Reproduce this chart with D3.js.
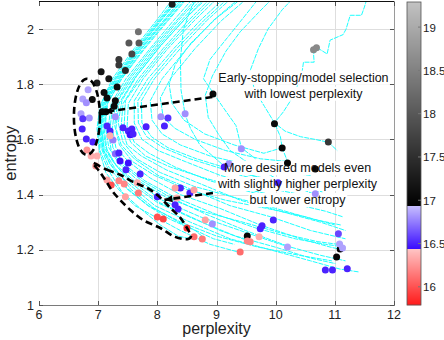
<!DOCTYPE html>
<html lang="en">
<head>
<meta charset="UTF-8">
<title>Entropy vs perplexity</title>
<script src="https://d3js.org/d3.v7.min.js"></script>
<style>
  html, body { margin: 0; padding: 0; background: #fff; overflow: hidden; }
  svg { display: block; font-family: "Liberation Sans", Arial, sans-serif; }
</style>
</head>
<body>
<svg id="chart" width="444" height="340"></svg>
<script>
// axes
const perplexityTicks = [6, 7, 8, 9, 10, 11, 12];
const entropyTicks = [1, 1.2, 1.4, 1.6, 1.8, 2];
const colorTicks = [16, 16.5, 17, 17.5, 18, 18.5, 19];
const colorRange = [15.79, 19.29];
const colorBreaks = [16.44, 16.93];

// training runs (perplexity, entropy)
const runs = [
  [[8.42,2.14],[8.01,2.03],[7.64,1.93],[7.27,1.82],[7.05,1.73],[7.0,1.64],[7.03,1.56],[7.17,1.49],[7.4,1.41],[7.71,1.35],[8.05,1.29],[8.35,1.25],[8.56,1.24]],
  [[8.52,2.14],[8.1,2.03],[7.71,1.93],[7.34,1.82],[7.1,1.73],[7.05,1.64],[7.08,1.56],[7.24,1.5],[7.49,1.42],[7.84,1.36],[8.22,1.31],[8.64,1.27],[8.81,1.24]],
  [[8.62,2.14],[8.18,2.03],[7.79,1.93],[7.4,1.82],[7.15,1.73],[7.1,1.64],[7.15,1.56],[7.32,1.5],[7.62,1.44],[8.05,1.37],[8.56,1.32],[9.06,1.27],[9.57,1.23]],
  [[8.72,2.14],[8.27,2.03],[7.88,1.93],[7.47,1.82],[7.22,1.73],[7.17,1.64],[7.22,1.56],[7.4,1.51],[7.74,1.45],[8.22,1.39],[8.81,1.33],[9.49,1.27],[10.25,1.21]],
  [[8.47,2.14],[8.05,2.03],[7.68,1.93],[7.3,1.82],[7.08,1.73],[7.03,1.64],[7.07,1.57],[7.2,1.51],[7.51,1.44],[7.96,1.36],[8.56,1.3],[9.23,1.24],[9.91,1.2],[10.59,1.16],[11.09,1.13],[11.4,1.12]],
  [[8.57,2.14],[8.13,2.03],[7.74,1.93],[7.37,1.82],[7.13,1.73],[7.08,1.64],[7.13,1.57],[7.29,1.51],[7.61,1.45],[8.08,1.38],[8.72,1.32],[9.4,1.27],[10.08,1.22],[10.76,1.18],[11.18,1.16]],
  [[8.83,2.14],[8.35,2.03],[7.95,1.93],[7.54,1.82],[7.29,1.73],[7.24,1.64],[7.3,1.57],[7.51,1.52],[7.88,1.46],[8.39,1.4],[9.06,1.35],[9.74,1.29],[10.42,1.24],[10.92,1.21],[11.13,1.2]],
  [[8.93,2.14],[8.44,2.03],[8.01,1.93],[7.61,1.82],[7.35,1.73],[7.3,1.64],[7.39,1.58],[7.61,1.53],[8.01,1.47],[8.56,1.42],[9.23,1.36],[9.91,1.32],[10.59,1.27],[11.18,1.24]],
  [[9.03,2.14],[8.52,2.03],[8.1,1.93],[7.68,1.82],[7.42,1.73],[7.39,1.65],[7.49,1.58],[7.73,1.54],[8.15,1.49],[8.72,1.44],[9.4,1.38],[10.08,1.34],[10.76,1.3],[11.18,1.27]],
  [[9.15,2.14],[8.62,2.03],[8.18,1.93],[7.76,1.82],[7.51,1.73],[7.49,1.65],[7.61,1.59],[7.86,1.55],[8.3,1.5],[8.89,1.45],[9.57,1.41],[10.25,1.37],[10.84,1.34],[11.13,1.32]],
  [[9.27,2.14],[8.72,2.03],[8.28,1.93],[7.84,1.82],[7.61,1.74],[7.61,1.66],[7.74,1.6],[8.01,1.56],[8.47,1.52],[9.06,1.47],[9.74,1.43],[10.42,1.4],[10.92,1.37]],
  [[9.4,2.14],[8.83,2.03],[8.39,1.93],[7.95,1.82],[7.73,1.74],[7.74,1.66],[7.9,1.61],[8.18,1.57],[8.66,1.53],[9.27,1.49],[9.91,1.45],[10.59,1.42],[10.79,1.41]],
  [[9.54,2.14],[8.94,2.03],[8.5,1.93],[8.08,1.82],[7.88,1.74],[7.91,1.67],[8.08,1.62],[8.39,1.58],[8.89,1.54],[9.49,1.51],[10.16,1.48],[10.59,1.47]],
  [[9.67,2.14],[9.08,2.03],[8.64,1.93],[8.22,1.82],[8.05,1.75],[8.1,1.68],[8.3,1.64],[8.64,1.6],[9.15,1.56],[9.74,1.53],[10.2,1.52]],
  [[8.49,2.14],[8.06,2.03],[7.69,1.93],[7.32,1.82],[7.1,1.73],[7.05,1.65],[7.1,1.57],[7.25,1.52],[7.56,1.44],[8.01,1.37],[8.64,1.31],[9.32,1.25],[9.99,1.21],[10.59,1.17],[11.01,1.15]],
  [[8.78,2.14],[8.32,2.03],[7.91,1.93],[7.51,1.82],[7.25,1.73],[7.2,1.64],[7.25,1.57],[7.44,1.51],[7.79,1.45],[8.3,1.39],[8.98,1.33],[9.65,1.28],[10.33,1.24],[10.84,1.22],[11.18,1.21]],
  [[8.37,2.14],[7.98,2.03],[7.61,1.93],[7.24,1.82],[7.03,1.72],[6.98,1.64],[7.02,1.56],[7.13,1.48],[7.34,1.42],[7.62,1.36],[7.96,1.32],[8.39,1.27],[8.89,1.22],[9.4,1.19]],
  [[8.45,2.14],[8.03,2.03],[7.66,1.93],[7.29,1.82],[7.07,1.73],[7.02,1.64],[7.05,1.57],[7.18,1.5],[7.45,1.43],[7.85,1.36],[8.4,1.3],[9.0,1.25],[9.7,1.21],[10.4,1.18],[10.95,1.16]],
  [[8.6,2.14],[8.16,2.03],[7.77,1.93],[7.39,1.82],[7.16,1.73],[7.12,1.65],[7.18,1.57],[7.36,1.51],[7.68,1.45],[8.15,1.39],[8.75,1.34],[9.45,1.3],[10.1,1.26],[10.7,1.23],[11.05,1.22]],
  [[8.88,2.14],[8.4,2.03],[7.98,1.93],[7.58,1.82],[7.33,1.74],[7.28,1.65],[7.36,1.58],[7.58,1.52],[7.95,1.47],[8.48,1.42],[9.15,1.38],[9.85,1.35],[10.5,1.32],[11.0,1.29]],
  [[9.08,2.14],[8.57,2.03],[8.14,1.93],[7.72,1.82],[7.46,1.74],[7.44,1.65],[7.55,1.59],[7.8,1.54],[8.22,1.5],[8.8,1.46],[9.48,1.42],[10.15,1.39],[10.7,1.36]],
  [[9.34,2.14],[8.78,2.03],[8.33,1.93],[7.9,1.82],[7.67,1.74],[7.68,1.66],[7.82,1.61],[8.1,1.57],[8.55,1.53],[9.15,1.49],[9.8,1.46],[10.4,1.44]],
  [[8.55,2.14],[8.12,2.03],[7.73,1.93],[7.36,1.82],[7.12,1.73],[7.06,1.64],[7.1,1.56],[7.27,1.5],[7.55,1.42],[7.95,1.35],[8.45,1.29],[8.95,1.24],[9.3,1.22]],
  [[9.6,2.14],[9.0,2.04],[8.57,1.95],[8.3,1.87],[8.2,1.8],[8.25,1.73],[8.45,1.67],[8.8,1.62],[9.3,1.58],[9.8,1.55],[10.11,1.57]],
  [[8.98,2.14],[8.48,2.04],[8.06,1.94],[7.65,1.83],[7.4,1.74],[7.34,1.66],[7.42,1.59],[7.65,1.53],[8.05,1.48],[8.62,1.43],[9.3,1.39],[10.0,1.35],[10.65,1.31],[11.1,1.29]],
  [[9.82,2.14],[9.45,2.04],[9.15,1.96],[8.89,1.89],[8.78,1.82],[8.94,1.77],[9.1,1.72],[9.33,1.65],[9.42,1.57],[9.66,1.53]],
  [[10.08,2.14],[9.71,2.06],[9.4,1.99],[9.16,1.92],[8.93,1.83],[8.81,1.76],[8.86,1.68],[9.03,1.62],[9.23,1.56],[9.57,1.51],[10.08,1.45],[10.67,1.4]],
  [[10.42,2.14],[10.11,2.07],[9.87,2.0],[9.71,1.93],[9.57,1.85],[9.64,1.78],[9.81,1.72],[9.98,1.66],[10.08,1.61],[10.11,1.57],[10.2,1.52],[10.42,1.5],[10.67,1.49]],
  [[11.57,2.13],[11.5,2.08],[11.45,2.05],[11.26,2.05],[11.19,2.0],[11.14,1.98],[10.92,1.96],[10.87,1.91],[10.72,1.93],[10.64,1.91],[10.65,1.88],[10.47,1.88],[10.45,1.85],[10.38,1.8],[10.25,1.74],[10.13,1.7],[9.98,1.66],[10.16,1.63],[10.42,1.61],[10.67,1.6],[10.89,1.59],[11.04,1.56]],
  [[8.72,2.14],[8.56,2.07],[8.44,2.0],[8.39,1.89],[8.4,1.78],[8.47,1.69],[8.56,1.64],[8.72,1.58],[9.15,1.5],[9.4,1.47],[10.04,1.44],[10.42,1.42]]
];

// models: perplexity, entropy, colour value
const grayModels = [
  [8.25,2.09,17.3],[7.68,1.99,18.3],[7.52,1.95,18.0],[7.69,1.95,18.0],[7.57,1.91,17.8],[7.35,1.89,17.6],
  [7.35,1.87,17.6],[7.46,1.85,17.4],[7.05,1.845,17.2],[7.18,1.82,17.2],[6.98,1.805,17.3],[7.32,1.79,17.1],
  [7.10,1.77,17.1],[7.15,1.75,17.05],[7.29,1.74,17.05],[6.90,1.745,17.1],[7.27,1.72,17.05],[7.13,1.70,17.0],
  [7.07,1.70,17.0],[8.94,1.765,17.05],[9.98,1.657,17.05],[10.11,1.569,17.0],[10.20,1.515,17.0],[10.67,1.493,17.0],
  [9.52,1.25,17.0],[11.09,1.203,17.0],[11.03,1.174,17.0],[10.64,1.925,18.6],[10.69,1.932,18.6],[10.89,1.591,17.6]
];
const blueModels = [
  [6.83,1.78,16.85],[6.74,1.747,16.85],[6.80,1.733,16.8],[6.71,1.693,16.85],[6.85,1.678,16.8],[6.74,1.675,16.55],
  [6.73,1.638,16.5],[6.80,1.602,16.5],[6.91,1.591,16.5],[7.29,1.682,16.8],[7.15,1.649,16.5],[7.20,1.631,16.5],
  [7.25,1.598,16.75],[7.42,1.642,16.5],[7.51,1.631,16.5],[7.57,1.638,16.5],[7.54,1.617,16.45],[7.59,1.62,16.5],
  [7.81,1.646,16.5],[8.06,1.682,16.8],[8.18,1.678,16.55],[8.12,1.649,16.5],[8.47,1.693,16.8],[7.29,1.548,16.7],
  [7.35,1.551,16.5],[7.37,1.522,16.45],[7.51,1.515,16.45],[7.47,1.49,16.5],[7.71,1.475,16.5],[8.0,1.392,16.5],
  [8.39,1.424,16.5],[8.55,1.406,16.5],[8.30,1.363,16.5],[8.35,1.348,16.5],[8.93,1.294,16.8],[9.21,1.512,16.8],
  [9.13,1.50,16.5],[9.42,1.566,16.8],[10.04,1.443,16.5],[10.67,1.403,16.8],[9.77,1.287,16.5],[9.74,1.276,16.5],
  [9.96,1.308,16.5],[10.20,1.21,16.85],[11.06,1.258,16.6],[11.08,1.221,16.85],[11.13,1.207,16.85],[10.84,1.127,16.5],
  [10.96,1.127,16.5],[11.21,1.131,16.5]
];
const redModels = [
  [6.81,1.562,16.25],[6.88,1.54,16.35],[6.98,1.54,16.35],[6.96,1.504,16.25],[7.20,1.613,16.35],[7.15,1.453,16.3],
  [7.22,1.435,16.0],[7.35,1.45,16.2],[7.44,1.439,16.2],[7.46,1.392,16.3],[7.68,1.406,16.15],[7.66,1.443,16.35],
  [8.30,1.424,16.3],[8.33,1.388,16.35],[8.62,1.417,16.3],[8.0,1.319,16.0],[8.10,1.312,15.95],[8.50,1.279,15.9],
  [8.62,1.247,16.1],[8.76,1.239,16.15],[8.81,1.308,16.3],[9.52,1.232,16.2],[9.57,1.229,16.2],[9.72,1.247,16.35],
  [9.40,1.192,16.1]
];

// annotations (data units)
const earlyStopRegion = { center: [6.81, 1.682], radius: [0.22, 0.138] };
const lowEntropyRegion = [
  [6.91,1.515],[7.15,1.49],[7.37,1.472],[7.59,1.446],[7.83,1.424],[8.0,1.399],[8.22,1.352],[8.39,1.316],[8.52,1.272],
  [8.57,1.25],[8.52,1.239],[8.3,1.247],[8.05,1.279],[7.76,1.308],[7.54,1.345],[7.37,1.381],[7.25,1.41],[7.15,1.443],
  [7.03,1.482],[6.93,1.508]
];
const arrows = [
  [[8.93, 1.754], [7.1, 1.70]],
  [[8.94, 1.406], [8.12, 1.381]]
];
const notes = [
  { at: [10.47, 1.809], lines: ["Early-stopping/model selection", "with lowest perplexity"] },
  { at: [10.37, 1.482], lines: ["More desired models even", "with slightly higher perplexity", "but lower entropy"] }
];

const svg = d3.select("#chart");
const plotLeft = 39, plotRight = 394, plotTop = 1.5, plotBottom = 305;

const x = d3.scaleLinear().domain([6, 12]).range([plotLeft, plotRight]);
const y = d3.scaleLinear().domain([1, 2.1]).range([plotBottom, plotTop]);
const cy = d3.scaleLinear().domain(colorRange).range([305, 2]);

const redPart = d3.scaleLinear().domain([colorRange[0], colorBreaks[0]]).range(["#ff1a1a", "#ffc6c6"]).clamp(true);
const bluePart = d3.scaleLinear().domain([colorBreaks[0], colorBreaks[1]]).range(["#3a0cff", "#c6befe"]).clamp(true);
const grayPart = d3.scaleLinear().domain([colorBreaks[1], colorRange[1]]).range(["#000000", "#c2c2c2"]).clamp(true);
function colorOf(v) {
  if (v < colorBreaks[0]) return redPart(v);
  if (v < colorBreaks[1]) return bluePart(v);
  return grayPart(v);
}

svg.append("defs").append("clipPath").attr("id", "plotClip")
  .append("rect").attr("x", plotLeft).attr("y", plotTop)
  .attr("width", plotRight - plotLeft).attr("height", plotBottom - plotTop);

// grid
const grid = svg.append("g").attr("stroke", "#dedede").attr("stroke-width", 1);
grid.selectAll("line.gx").data(perplexityTicks.slice(1, -1)).join("line")
  .attr("x1", d => Math.round(x(d)) + 0.5).attr("x2", d => Math.round(x(d)) + 0.5)
  .attr("y1", plotTop).attr("y2", plotBottom);
grid.selectAll("line.gy").data(entropyTicks.slice(1)).join("line")
  .attr("y1", d => Math.round(y(d)) + 0.5).attr("y2", d => Math.round(y(d)) + 0.5)
  .attr("x1", plotLeft).attr("x2", plotRight);

// runs
const line = d3.line().x(d => x(d[0])).y(d => y(d[1]));
svg.append("g").attr("clip-path", "url(#plotClip)")
  .selectAll("path").data(runs).join("path")
  .attr("d", line)
  .attr("fill", "none")
  .attr("stroke", "#1cffff")
  .attr("stroke-width", 1)
  .attr("stroke-dasharray", "5,1");

const noteBg = svg.append("g");

// models
const allModels = grayModels.concat(blueModels, redModels);
svg.append("g").attr("clip-path", "url(#plotClip)")
  .selectAll("circle").data(allModels).join("circle")
  .attr("cx", d => x(d[0])).attr("cy", d => y(d[1]))
  .attr("r", 3.5)
  .attr("fill", d => colorOf(d[2]));

// frame and ticks
const frame = svg.append("g");
frame.append("line").attr("x1", plotLeft).attr("x2", plotRight).attr("y1", 1.5).attr("y2", 1.5)
  .attr("stroke", "#111").attr("stroke-width", 1);
frame.append("line").attr("x1", plotRight + 0.5).attr("x2", plotRight + 0.5).attr("y1", 1).attr("y2", plotBottom)
  .attr("stroke", "#9a9a9a");
frame.append("line").attr("x1", plotLeft).attr("x2", plotRight + 1).attr("y1", plotBottom + 0.5).attr("y2", plotBottom + 0.5)
  .attr("stroke", "#7a7a7a");

const tickColor = "#555";
frame.selectAll("line.tb").data(perplexityTicks).join("line")
  .attr("x1", d => Math.round(x(d)) + 0.5).attr("x2", d => Math.round(x(d)) + 0.5)
  .attr("y1", plotBottom).attr("y2", plotBottom - 4).attr("stroke", tickColor);
frame.selectAll("line.tt").data(perplexityTicks).join("line")
  .attr("x1", d => Math.round(x(d)) + 0.5).attr("x2", d => Math.round(x(d)) + 0.5)
  .attr("y1", 2).attr("y2", 6).attr("stroke", tickColor);
frame.selectAll("line.tl").data(entropyTicks).join("line")
  .attr("y1", d => Math.round(y(d)) + 0.5).attr("y2", d => Math.round(y(d)) + 0.5)
  .attr("x1", plotLeft).attr("x2", plotLeft + 4).attr("stroke", tickColor);
frame.selectAll("line.tr").data(entropyTicks).join("line")
  .attr("y1", d => Math.round(y(d)) + 0.5).attr("y2", d => Math.round(y(d)) + 0.5)
  .attr("x1", plotRight).attr("x2", plotRight - 4).attr("stroke", tickColor);

svg.append("g").selectAll("text").data(perplexityTicks).join("text")
  .attr("x", d => x(d)).attr("y", 318.5)
  .attr("text-anchor", "middle").attr("font-size", 12.5).attr("fill", "#222")
  .text(d => d);
svg.append("g").selectAll("text").data(entropyTicks).join("text")
  .attr("x", 34).attr("y", d => y(d) + 4.5)
  .attr("text-anchor", "end").attr("font-size", 12.5).attr("fill", "#222")
  .text(d => d);

svg.append("text").attr("x", (plotLeft + plotRight) / 2).attr("y", 334)
  .attr("text-anchor", "middle").attr("font-size", 16).attr("fill", "#222")
  .text("perplexity");
svg.append("text").attr("transform", `translate(16,${(plotTop + plotBottom) / 2}) rotate(-90)`)
  .attr("text-anchor", "middle").attr("font-size", 16.5).attr("fill", "#222")
  .text("entropy");

// dashed annotations
const ann = svg.append("g").attr("fill", "none").attr("stroke", "#000")
  .attr("stroke-width", 2.6).attr("stroke-dasharray", "7,4");
ann.append("ellipse")
  .attr("cx", x(earlyStopRegion.center[0])).attr("cy", y(earlyStopRegion.center[1]))
  .attr("rx", x(earlyStopRegion.center[0] + earlyStopRegion.radius[0]) - x(earlyStopRegion.center[0]))
  .attr("ry", y(earlyStopRegion.center[1]) - y(earlyStopRegion.center[1] + earlyStopRegion.radius[1]));
ann.append("path")
  .attr("d", d3.line().x(d => x(d[0])).y(d => y(d[1])).curve(d3.curveCatmullRomClosed.alpha(0.5))(lowEntropyRegion));
ann.selectAll("line").data(arrows).join("line")
  .attr("x1", d => x(d[0][0])).attr("y1", d => y(d[0][1]))
  .attr("x2", d => x(d[1][0])).attr("y2", d => y(d[1][1]));
svg.append("g").selectAll("path").data(arrows).join("path")
  .attr("fill", "#000")
  .attr("d", d => {
    const x0 = x(d[0][0]), y0 = y(d[0][1]), x1 = x(d[1][0]), y1 = y(d[1][1]);
    const a = Math.atan2(y1 - y0, x1 - x0), L = 8, W = 3.5;
    const bx = x1 - L * Math.cos(a), by = y1 - L * Math.sin(a);
    return `M${x1},${y1}L${bx - W * Math.sin(a)},${by + W * Math.cos(a)}L${bx + W * Math.sin(a)},${by - W * Math.cos(a)}Z`;
  });

// notes
const noteG = svg.append("g");
notes.forEach(n => {
  n.lines.forEach((t, i) => {
    noteG.append("text")
      .attr("x", x(n.at[0])).attr("y", y(n.at[1]) + i * 16)
      .attr("text-anchor", "middle").attr("font-size", 12.5).attr("fill", "#111")
      .text(t);
  });
});
noteG.selectAll("text").each(function () {
  const b = this.getBBox();
  noteBg.append("rect").attr("x", b.x - 1).attr("y", b.y).attr("width", b.width + 2).attr("height", b.height)
    .attr("fill", "#fff");
});

// colorbar
const cb = svg.append("g");
const steps = d3.range(0, 303);
cb.selectAll("rect.s").data(steps).join("rect")
  .attr("x", 407).attr("width", 14)
  .attr("y", d => 2 + d).attr("height", 1.2)
  .attr("fill", d => colorOf(cy.invert(2 + d + 0.5)));
cb.append("rect").attr("x", 407).attr("y", 2).attr("width", 14).attr("height", 303)
  .attr("fill", "none").attr("stroke", "#555").attr("stroke-width", 0.8);
cb.selectAll("line.t").data(colorTicks).join("line")
  .attr("x1", 418).attr("x2", 421).attr("y1", d => cy(d)).attr("y2", d => cy(d))
  .attr("stroke", "#777");
cb.selectAll("text").data(colorTicks).join("text")
  .attr("x", 423).attr("y", d => cy(d) + 4.5)
  .attr("font-size", 11.5).attr("fill", "#222")
  .text(d => d);
</script>
</body>
</html>
